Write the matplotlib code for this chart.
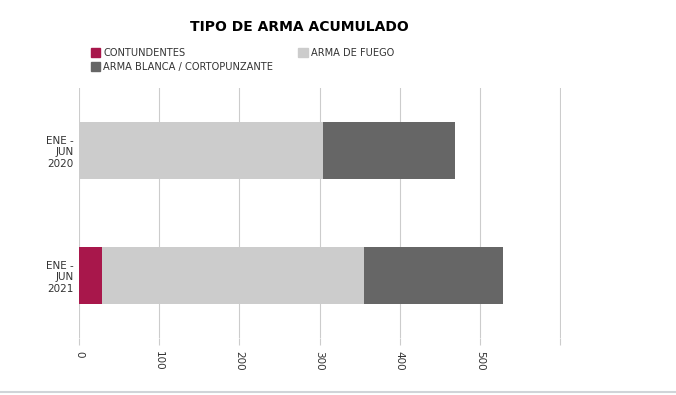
import numpy as np
import matplotlib
matplotlib.use("Agg")
from matplotlib import pyplot as plt
from matplotlib.patches import Patch

# Data
periods = ["ENE -\nJUN\n2020", "ENE -\nJUN\n2021"]
series_names = ["CONTUNDENTES", "ARMA DE FUEGO", "ARMA BLANCA / CORTOPUNZANTE"]
contundentes = [0, 29]
arma_fuego = [304, 326]
arma_blanca = [165, 174]
x_ticks = [0, 100, 200, 300, 400, 500, 600]
x_tick_labels = ["0", "100", "200", "300", "400", "500", ""]

colors = ["#A8174B", "#CCCCCC", "#666666"]

fig = plt.figure(figsize=(6.76, 3.95), dpi=100)
ax = fig.add_axes([0.1169, 0.1443, 0.7130, 0.6329])

y = np.arange(len(periods))
left = np.zeros(len(periods))
for vals, c in zip([contundentes, arma_fuego, arma_blanca], colors):
    ax.barh(y, vals, left=left, height=0.46, color=c, zorder=3)
    left += np.array(vals)

ax.set_ylim(1.5, -0.5)
ax.set_xlim(0, 601)
ax.set_yticks(y)
ax.set_yticklabels(periods, fontsize=7.5, color="#333333", ha="right")
ax.tick_params(axis="y", length=0, pad=4)
ax.set_xticks(x_ticks)
ax.set_xticklabels(x_tick_labels, rotation=-90, fontsize=7.5, color="#333333")
ax.tick_params(axis="x", length=5, color="#cccccc", pad=4)
ax.grid(axis="x", color="#cccccc", linewidth=0.8, zorder=0)
for s in ax.spines.values():
    s.set_visible(False)

fig.suptitle("TIPO DE ARMA ACUMULADO", x=0.443, y=0.95, fontsize=10, fontweight="bold")

handles = [Patch(color=colors[0]), Patch(color=colors[2]), Patch(color=colors[1])]
labels = [series_names[0], series_names[2], series_names[1]]
fig.legend(handles, labels, ncol=2, loc="upper left", bbox_to_anchor=(0.134, 0.878),
           frameon=False, fontsize=7.1, handlelength=1.0, handleheight=1.0,
           handletextpad=0.3, labelspacing=0.35, columnspacing=2.5,
           labelcolor="#333333", borderpad=0, borderaxespad=0)

# bottom border line
fig.add_artist(plt.Line2D([0, 1], [0.008, 0.008], color="#d0d4d8", linewidth=1.5))

fig.savefig("out.png", dpi=100)
